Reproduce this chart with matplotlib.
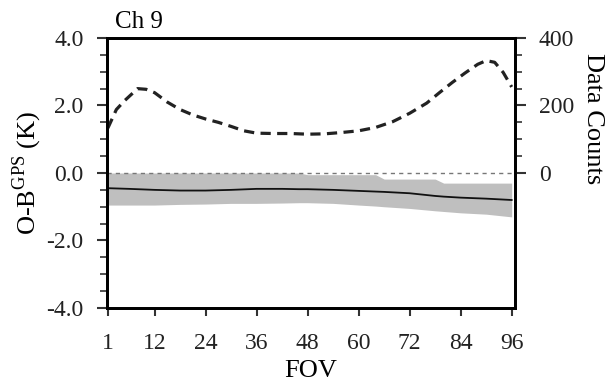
import matplotlib
matplotlib.use('Agg')
import matplotlib.pyplot as plt
from matplotlib.ticker import FixedLocator, MultipleLocator

plt.rcParams['font.family'] = ['Liberation Serif', 'DejaVu Serif']
plt.rcParams['axes.unicode_minus'] = False
plt.rcParams['mathtext.fontset'] = 'custom'
plt.rcParams['mathtext.rm'] = 'Liberation Serif'

# Data counts (right axis, dashed)
fov_counts = [1, 3, 5, 8, 10, 12, 15, 18, 21, 24, 27, 30, 33, 36, 40, 44, 48,
              52, 56, 60, 64, 68, 72, 76, 79, 82, 85, 88, 90, 92, 94, 96]
counts = [133, 188, 215, 250, 248, 238, 210, 188, 172, 160, 150, 138, 125, 118,
          117, 117, 115, 116, 120, 125, 135, 152, 177, 207, 238, 268, 296, 322,
          333, 328, 298, 255]

# O-B mean and std band (left axis)
fov_band = [1, 6, 12, 18, 24, 30, 36, 42, 46, 48, 54, 60, 64, 66, 72, 78, 80,
            84, 90, 96]
band_upper = [0, 0, 0, 0, 0, 0, 0, 0, 0, -0.05, -0.05, -0.05, -0.05, -0.18,
              -0.18, -0.18, -0.3, -0.3, -0.3, -0.3]
band_lower = [-0.95, -0.95, -0.95, -0.93, -0.92, -0.9, -0.9, -0.89, -0.88,
              -0.88, -0.9, -0.95, -0.98, -1.0, -1.05, -1.12, -1.14, -1.18,
              -1.22, -1.3]
ob_mean = [-0.45, -0.47, -0.5, -0.52, -0.52, -0.5, -0.47, -0.47, -0.48, -0.48,
           -0.5, -0.53, -0.55, -0.56, -0.6, -0.68, -0.7, -0.73, -0.76, -0.8]

xticks = [1, 12, 24, 36, 48, 60, 72, 84, 96]

fig = plt.figure(figsize=(6.1, 3.85), dpi=100)
ax = fig.add_axes([0.1754, 0.2, 0.669, 0.7013])

ax.fill_between(fov_band, band_lower, band_upper, color='#bfbfbf', lw=0)
ax.plot(fov_band, ob_mean, color='#111111', lw=1.3)
ax.axhline(0, color='#777777', lw=1.0, ls=(0, (3, 3)))

ax.set_xlim(0.8, 96.8)
ax.set_ylim(-4, 4)
ax.set_xticks(xticks)
ax.set_yticks([-4, -2, 0, 2, 4])
ax.set_yticklabels(['-4.0', '-2.0', '0.0', '2.0', '4.0'])
ax.yaxis.set_minor_locator(MultipleLocator(0.5))

for s in ax.spines.values():
    s.set_linewidth(2)

tick_font = dict(labelsize=17, labelcolor='#222222', color='#333333')
ax.tick_params(axis='y', which='major', direction='out', length=7, width=1.5,
               pad=10, **tick_font)
ax.tick_params(axis='y', which='minor', direction='out', length=5, width=1.2,
               color='#333333')
ax.tick_params(axis='x', which='major', direction='out', length=6, width=1.5,
               pad=12, **tick_font)

ax.set_xlabel('FOV', fontsize=19, labelpad=4)
ax.set_ylabel(r'O-B$^{\mathrm{GPS}}$ (K)', fontsize=19, va='center')
ax.yaxis.set_label_coords(-0.196, 0.5)
ax.text(0.02, 1.02, 'Ch 9', transform=ax.transAxes, fontsize=18,
        ha='left', va='bottom')

ax2 = ax.twinx()
ax2.plot(fov_counts, counts, color='#222222', lw=2.3, dashes=(3.2, 2))
ax2.set_ylim(-400, 400)
ax2.set_yticks([0, 200, 400])
ax2.yaxis.set_minor_locator(FixedLocator([50, 100, 150, 250, 300, 350]))
ax2.tick_params(axis='y', which='major', direction='out', length=8, width=1.5,
                pad=9, **tick_font)
ax2.tick_params(axis='y', which='minor', direction='out', length=5, width=1.2,
                color='#333333')
for s in ax2.spines.values():
    s.set_linewidth(2)
ax2.set_ylabel('Data Counts', fontsize=19, rotation=270, va='center')
ax2.yaxis.set_label_coords(1.19, 0.7)

fig.savefig('out.png', dpi=100)
